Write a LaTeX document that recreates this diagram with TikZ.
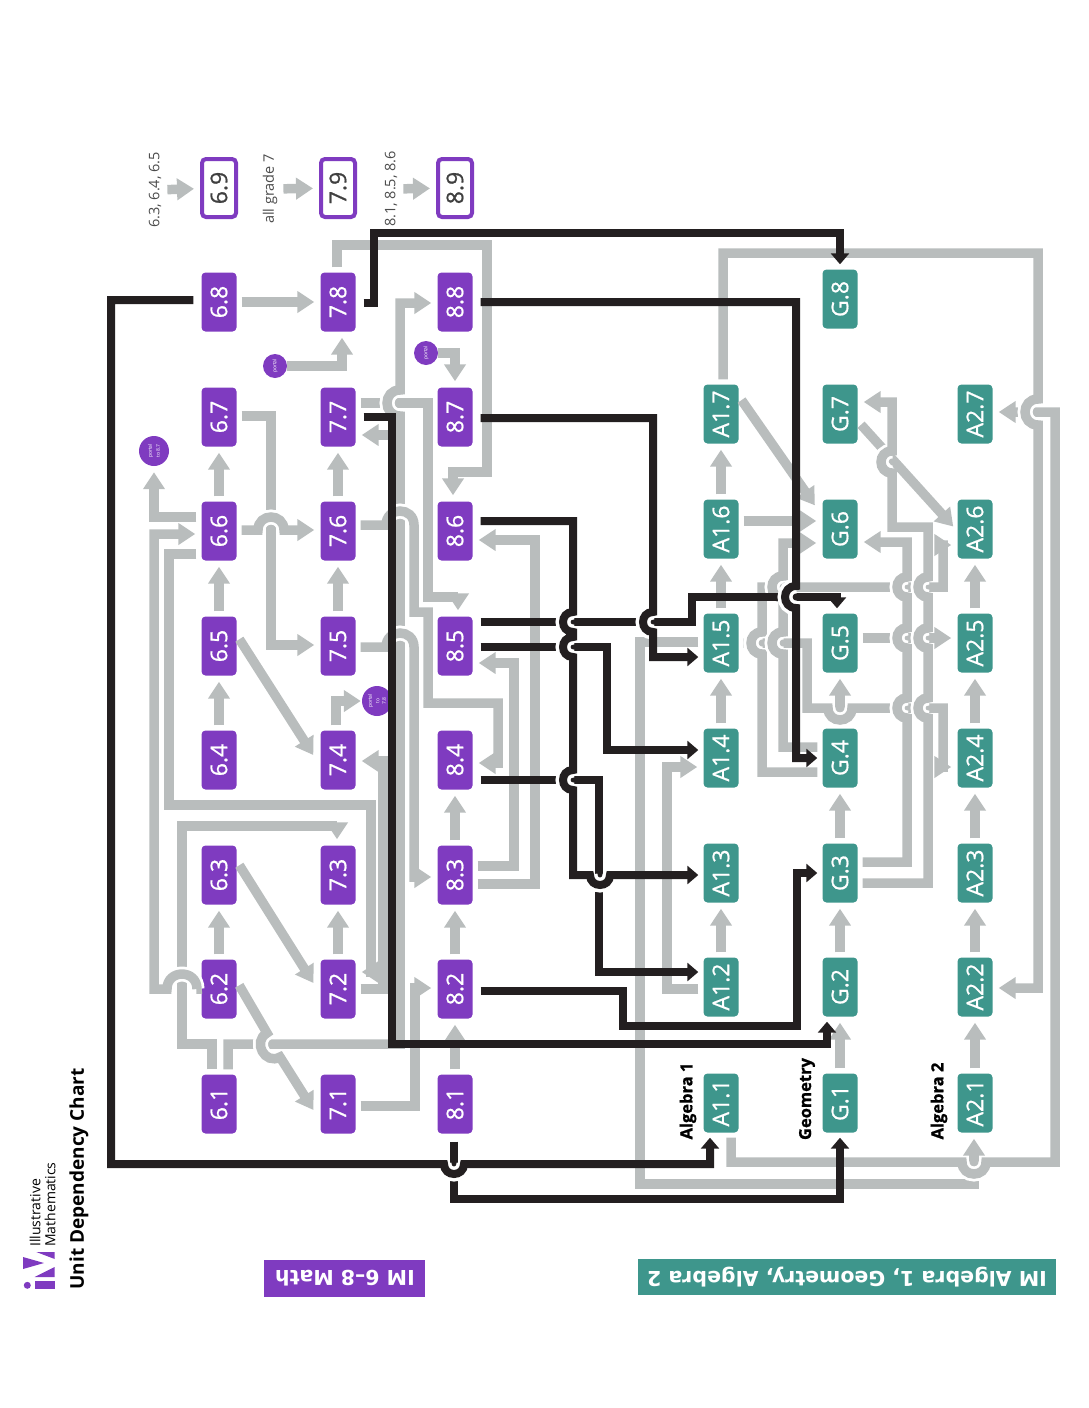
\documentclass[tikz,border=0pt]{standalone}
\usepackage{fontspec}
\setmainfont{Open Sans}
\newfontfamily\barfont{DejaVu Sans}
\newfontfamily\unitfont{Open Sans}[RawFeature={embolden=0.8}]
\newfontfamily\coursefont{Open Sans Bold}[RawFeature={embolden=1}]
\usetikzlibrary{arrows.meta}

\definecolor{impurple}{HTML}{7F3BC0}
\definecolor{imteal}{HTML}{3E968C}
\definecolor{depgray}{HTML}{B9BDBD}
\definecolor{keyblack}{HTML}{231F20}

\newcommand{\up}[1]{\rotatebox{90}{#1}}
% the bows a line makes where it jumps over another one
\newcommand{\hopL}[3]{-- (#1,#2+#3) .. controls ({#1-1.33*abs(#3)},#2+#3) and ({#1-1.33*abs(#3)},#2-#3) .. (#1,#2-#3)}
\newcommand{\hopU}[3]{-- (#1-#3,#2) .. controls (#1-#3,{#2-1.33*abs(#3)}) and (#1+#3,{#2-1.33*abs(#3)}) .. (#1+#3,#2)}
\newcommand{\hopD}[3]{-- (#1-#3,#2) .. controls (#1-#3,{#2+1.33*abs(#3)}) and (#1+#3,{#2+1.33*abs(#3)}) .. (#1+#3,#2)}
\newcommand{\wipeL}[3]{\draw[halo] (#1,#2+#3) \hopL{#1}{#2}{#3};}
\newcommand{\wipeU}[3]{\draw[halo] (#1-#3,#2) \hopU{#1}{#2}{#3};}
\newcommand{\wipeD}[3]{\draw[halo] (#1-#3,#2) \hopD{#1}{#2}{#3};}

\tikzset{
  unitbox/.style={rectangle,rounded corners=4pt,minimum width=35pt,minimum height=59pt,
    inner sep=0pt,text=white,font=\unitfont\fontsize{23}{23}\selectfont},
  six/.style={unitbox,fill=impurple},
  hs/.style={unitbox,fill=imteal},
  ring/.style={unitbox,draw=impurple,line width=4pt,fill=white,text=black!75,minimum width=34pt,minimum height=58pt},
  portal/.style={circle,fill=impurple,text=white,inner sep=0pt,font=\fontsize{5}{5}\selectfont},
  dep/.style={draw=depgray,line width=9.5pt,shorten <=5pt,shorten >=6pt,
    -{Triangle[length=17pt,width=21pt,color=depgray]}},
  slant/.style={dep,shorten >=13pt},
  key/.style={draw=keyblack,line width=8pt,shorten <=8pt,shorten >=5pt,
    -{Triangle[length=11pt,width=18pt,color=keyblack]}},
  halo/.style={draw=white,line width=15pt},
  side/.style={font=\fontsize{14.5}{14.5}\selectfont,text=black!70,inner sep=1pt},
  course/.style={font=\coursefont\fontsize{16.5}{16.5}\selectfont,text=black},
  banner/.style={rotate=180,text=white,inner sep=0pt,font=\barfont\fontsize{20.5}{20.5}\selectfont\bfseries}
}

\begin{document}
\begin{tikzpicture}[x=1pt,y=-1pt]
  \useasboundingbox (0,0) rectangle (1088,1408);

  \node[six] (u61) at (219,1104) {\up{6.1}};
  \node[six] (u62) at (219,989) {\up{6.2}};
  \node[six] (u63) at (219,875) {\up{6.3}};
  \node[six] (u64) at (219,760) {\up{6.4}};
  \node[six] (u65) at (219,646) {\up{6.5}};
  \node[six] (u66) at (219,531) {\up{6.6}};
  \node[six] (u67) at (219,417) {\up{6.7}};
  \node[six] (u68) at (219,302) {\up{6.8}};
  \node[ring] (u69) at (219,188) {\up{6.9}};

  \node[six] (u71) at (338,1104) {\up{7.1}};
  \node[six] (u72) at (338,989) {\up{7.2}};
  \node[six] (u73) at (338,875) {\up{7.3}};
  \node[six] (u74) at (338,760) {\up{7.4}};
  \node[six] (u75) at (338,646) {\up{7.5}};
  \node[six] (u76) at (338,531) {\up{7.6}};
  \node[six] (u77) at (338,417) {\up{7.7}};
  \node[six] (u78) at (338,302) {\up{7.8}};
  \node[ring] (u79) at (338,188) {\up{7.9}};

  \node[six] (u81) at (455,1104) {\up{8.1}};
  \node[six] (u82) at (455,989) {\up{8.2}};
  \node[six] (u83) at (455,875) {\up{8.3}};
  \node[six] (u84) at (455,760) {\up{8.4}};
  \node[six] (u85) at (455,646) {\up{8.5}};
  \node[six] (u86) at (455,531) {\up{8.6}};
  \node[six] (u87) at (455,417) {\up{8.7}};
  \node[six] (u88) at (455,302) {\up{8.8}};
  \node[ring] (u89) at (455,188) {\up{8.9}};

  \node[hs] (a11) at (721,1103) {\up{A1.1}};
  \node[hs] (a12) at (721,987) {\up{A1.2}};
  \node[hs] (a13) at (721,873) {\up{A1.3}};
  \node[hs] (a14) at (721,758) {\up{A1.4}};
  \node[hs] (a15) at (721,643) {\up{A1.5}};
  \node[hs] (a16) at (721,529) {\up{A1.6}};
  \node[hs] (a17) at (721,414) {\up{A1.7}};

  \node[hs] (g1) at (840,1103) {\up{G.1}};
  \node[hs] (g2) at (840,987) {\up{G.2}};
  \node[hs] (g3) at (840,873) {\up{G.3}};
  \node[hs] (g4) at (840,758) {\up{G.4}};
  \node[hs] (g5) at (840,643) {\up{G.5}};
  \node[hs] (g6) at (840,529) {\up{G.6}};
  \node[hs] (g7) at (840,414) {\up{G.7}};
  \node[hs] (g8) at (840,299) {\up{G.8}};

  \node[hs] (a21) at (975,1103) {\up{A2.1}};
  \node[hs] (a22) at (975,987) {\up{A2.2}};
  \node[hs] (a23) at (975,873) {\up{A2.3}};
  \node[hs] (a24) at (975,758) {\up{A2.4}};
  \node[hs] (a25) at (975,643) {\up{A2.5}};
  \node[hs] (a26) at (975,529) {\up{A2.6}};
  \node[hs] (a27) at (975,414) {\up{A2.7}};

  \node[portal,minimum size=30pt] (p66) at (154,451) {\up{\shortstack{portal\\to 8.7}}};
  \node[portal,minimum size=24pt] (p78) at (275,366) {\up{portal}};
  \node[portal,minimum size=24pt] (p87) at (426,353) {\up{portal}};
  \node[portal,minimum size=30pt] (p74) at (377,701) {\up{\shortstack{portal\\to\\7.8}}};

  \node[side] (k69) at (155,190) {\up{6.3, 6.4, 6.5}};
  \node[side] (k79) at (270,189) {\up{all grade 7}};
  \node[side] (k89) at (391,189) {\up{8.1, 8.5, 8.6}};
  \coordinate (s77) at (396,435);

  \node[course] (lalg1) at (688,1101) {\up{Algebra 1}};
  \node[course] (lgeo) at (807,1099) {\up{Geometry}};
  \node[course] (lalg2) at (939,1101) {\up{Algebra 2}};

  \fill[impurple] (264,1260) rectangle (425,1297);
  \fill[imteal] (638,1259) rectangle (1056,1295);
  \node[banner] (bmath) at (345,1278) {IM 6–8 Math};
  \node[banner] (bhs) at (847,1277) {IM Algebra 1, Geometry, Algebra 2};

  \node[font=\fontsize{19}{19}\selectfont\bfseries,inner sep=0pt] (title) at (79,1179) {\up{Unit Dependency Chart}};
  \node[font=\fontsize{14}{14}\selectfont,inner sep=0pt,anchor=west,rotate=90] (ill) at (35,1247) {Illustrative};
  \node[font=\fontsize{14}{14}\selectfont,inner sep=0pt,anchor=west,rotate=90] (mat) at (50,1247) {Mathematics};
  \fill[impurple] (27.3,1285.3) circle (3.5);
  \fill[impurple] (35.3,1281) rectangle (54.5,1289.3);
  \fill[impurple] (36.3,1252) -- (54.7,1252) -- (54.7,1259) -- cycle;
  \fill[impurple] (23,1257) -- (23,1269) -- (44,1263) -- cycle;
  \fill[impurple] (54.7,1267) -- (54.7,1277) -- (34.7,1277) -- cycle;

  % one step up a column
  \draw[dep] (k69) -- (u69);
  \draw[dep] (k79) -- (u79);
  \draw[dep] (k89) -- (u89);
  \draw[dep] (u62) -- (u63);
  \draw[dep] (u64) -- (u65);
  \draw[dep] (u65) -- (u66);
  \draw[dep] (u66) -- (u67);
  \draw[dep] (u72) -- (u73);
  \draw[dep] (u75) -- (u76);
  \draw[dep] (u76) -- (u77);
  \draw[dep] (u81) -- (u82);
  \draw[dep] (u82) -- (u83);
  \draw[dep] (u83) -- (u84);
  \draw[dep] (u68) -- (u78.west |- u68);
  \draw[dep] (a12) -- (a13);
  \draw[dep] (a14) -- (a15);
  \draw[dep] (a15) -- (a16);
  \draw[dep] (a16) -- (a17);
  \draw[dep] (g1) -- (g2);
  \draw[dep] (g2) -- (g3);
  \draw[dep] (g3) -- (g4);
  \draw[dep] (g4) -- (g5);
  \draw[dep] (a21) -- (a22);
  \draw[dep] (a22) -- (a23);
  \draw[dep] (a23) -- (a24);
  \draw[dep] (a24) -- (a25);
  \draw[dep] (a25) -- (a26);

  % slanted ones
  \draw[slant] (u63.east |- 0,861) -- (u72.west |- 0,994);
  \draw[slant] (u65.east |- 0,635) -- (u74.west |- 0,766);
  \draw[slant] (a17.east |- 0,396) -- (g6.west |- 0,516);
  \draw[dep] (g7.east |- 0,421) -- (a26.west |- 0,531);

  % grades 6 to 8
  \draw[dep] (u67.east |- 0,416) -- (271,416) -- (271,645) -- (u75.west |- 0,645);
  \wipeU{271}{530}{13}
  \draw[dep] (u66.east |- 0,530) \hopU{271}{530}{13} -- (u76.west |- 0,530);
  \draw[dep] (u61.north -| 212,0) -- (212,1044) -- (182,1044) -- (182,826) -- (337,826) -- (u73.north -| 337,0);
  \wipeU{182}{989}{-15}
  \draw[dep] (u62.west |- 0,989) \hopU{182}{989}{-15} -- (154,989) -- (154,534) -- (u66.west |- 0,534);
  \draw[dep] (u66.west |- 0,517) -- (154,517) -- (p66.south);
  \draw[dep] (u66.west |- 0,554) -- (169,554) -- (169,805) -- (371,805) -- (371,972) -- (u72.east |- 0,972);
  \draw[dep] (u72.east |- 0,989) -- (383,989) -- (383,761) -- (u74.east |- 0,761);
  \draw[dep] (s77) -- (u77.east |- s77);
  \draw[dep] (u77.east |- 0,403) -- (428,403) -- (428,597) -- (458,597) -- (u85.north -| 458,0);
  \wipeL{400}{403}{13}
  \draw[dep] (u61.north -| 228,0) -- (228,1044) -- (400,1044) \hopL{400}{403}{13} -- (400,303) -- (u88.west |- 0,303);
  \draw[halo] (267,1033) .. controls (252,1041.5) and (265,1065.5) .. (280,1057);
  \draw[slant] (u62.east |- 0,981) -- (267,1033) .. controls (252,1041.5) and (265,1065.5) .. (280,1057) -- (u71.west |- 0,1121);
  \wipeU{400}{525}{14}
  \draw[dep] (u76.east |- 0,525) \hopU{400}{525}{14} -- (414,612) -- (428,612) -- (428,703) -- (498,703) -- (498,763) -- (u84.east |- 0,763);
  \wipeU{400}{647}{14}
  \draw[dep] (u75.east |- 0,647) \hopU{400}{647}{14} -- (414,877) -- (u83.west |- 0,877);
  \draw[dep] (u71.east |- 0,1106) -- (415,1106) -- (415,988) -- (u82.west |- 0,988);
  \draw[dep] (u83.east |- 0,866) -- (514,866) -- (514,663) -- (u85.east |- 0,663);
  \draw[dep] (u83.east |- 0,884) -- (535,884) -- (535,540) -- (u86.east |- 0,540);
  \draw[dep] (u78.north -| 337,0) -- (337,245) -- (487,245) -- (487,472) -- (453,472) -- (u86.north -| 453,0);
  \draw[dep,shorten <=0pt] (p78) -- (342,366) -- (u78.south -| 342,0);
  \draw[dep,shorten <=0pt] (p87) -- (455,353) -- (u87.north -| 455,0);
  \draw[dep,shorten >=1pt] (u74.north -| 336,0) -- (336,701) -- (p74.west);

  % high school courses
  \draw[dep] (a12.west |- 0,989) -- (667,989) -- (667,767) -- (a14.west |- 0,767);
  \draw[dep] (a15.west |- 0,642) -- (640,642) -- (640,1184) -- (974,1184) -- (a21.south -| 974,0);
  \wipeD{974}{1162}{12}
  \draw[dep] (a11.south -| 731,0) -- (731,1162) \hopD{974}{1162}{12} -- (1055,1162) -- (1055,412) -- (a27.east |- 0,412);
  \wipeL{1038}{412}{-13}
  \draw[dep] (a17.north -| 723,0) -- (723,253) -- (1038,253) \hopL{1038}{412}{-13} -- (1038,988) -- (a22.east |- 0,988);
  \draw[dep] (a16.east |- 0,521) -- (g6.west |- 0,521);
  \draw[dep] (g5.east |- 0,638) -- (a25.west |- 0,638);
  \wipeD{840}{708}{12}
  \draw[dep] (a15.east |- 0,643) -- (807,643) -- (807,708) \hopD{840}{708}{12} -- (943,708) -- (943,767) -- (a24.west |- 0,767);
  \wipeL{762}{643}{11}
  \draw[dep] (g4.west |- 0,772) -- (762,772) \hopL{762}{643}{11} -- (762,587) -- (943,587) -- (943,545) -- (a26.west |- 0,545);
  \wipeL{783}{643}{11}
  \wipeL{783}{587}{11}
  \draw[dep] (g4.west |- 0,747) -- (783,747) \hopL{783}{643}{11} \hopL{783}{587}{11} -- (783,543) -- (g6.west |- 0,543);
  \wipeL{928}{708}{10}
  \wipeL{928}{638}{10}
  \wipeL{928}{587}{10}
  \wipeL{892}{462}{11}
  \draw[dep] (g3.east |- 0,883) -- (928,883) \hopL{928}{708}{10} \hopL{928}{638}{10} \hopL{928}{587}{10} -- (928,527) -- (892,527) \hopL{892}{462}{11} -- (892,402) -- (g7.east |- 0,402);
  \wipeL{907}{708}{10}
  \wipeL{907}{638}{10}
  \wipeL{907}{587}{10}
  \draw[dep] (g3.east |- 0,862) -- (907,862) \hopL{907}{708}{10} \hopL{907}{638}{10} \hopL{907}{587}{10} -- (907,542) -- (g6.east |- 0,542);

  % black lines go on top
  \draw[key] (u81.south -| 454,0) -- (454,1199) -- (840,1199) -- (g1.south -| 840,0);
  \wipeD{454}{1164}{10}
  \draw[key] (u68.west |- 0,300) -- (111,300) -- (111,1164) \hopD{454}{1164}{10} -- (710,1164) -- (a11.south -| 710,0);
  \draw[key] (u82.east |- 0,991) -- (623,991) -- (623,1026) -- (797,1026) -- (797,873) -- (g3.west |- 0,873);
  \draw[key] (u77.east |- 0,417) -- (392,417) -- (392,1044) -- (827,1044) -- (g2.south -| 827,0);
  \draw[key] (u78.east |- 0,303) -- (374,303) -- (374,233) -- (840,233) -- (g8.north);
  \draw[key] (u85.east |- 0,622) -- (692,622) -- (692,597) -- (837,597) -- (g5.north -| 837,0);
  \wipeL{796}{597}{-11}
  \draw[key] (u88.east |- 0,302) -- (796,302) \hopL{796}{597}{-11} -- (796,758) -- (g4.west |- 0,758);
  \wipeL{653}{622}{-10}
  \draw[key] (u87.east |- 0,418) -- (653,418) \hopL{653}{622}{-10} -- (653,657) -- (a15.west |- 0,657);
  \draw[key] (u85.east |- 0,647) -- (607,647) -- (607,750) -- (a14.west |- 0,750);
  \draw[key] (u84.east |- 0,780) -- (599,780) -- (599,972) -- (a12.west |- 0,972);
  \wipeL{573}{622}{-10}
  \wipeL{573}{647}{-10}
  \wipeL{573}{780}{-10}
  \wipeD{600}{875}{10}
  \draw[key] (u86.east |- 0,521) -- (573,521) \hopL{573}{622}{-10} \hopL{573}{647}{-10} \hopL{573}{780}{-10} -- (573,875) \hopD{600}{875}{10} -- (a13.west |- 0,875);
\end{tikzpicture}
\end{document}
